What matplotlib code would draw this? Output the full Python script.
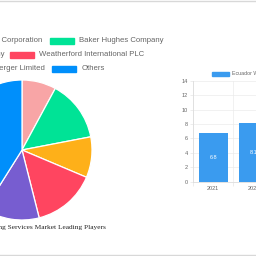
import matplotlib.pyplot as plt
from matplotlib.patches import Rectangle
from matplotlib.lines import Line2D

# pie data (share of market, %)
players = ["Sinopec Oilfield Service Corporation", "Baker Hughes Company", "Halliburton Company",
           "Weatherford International PLC", "Schlumberger Limited", "Others"]
shares = [7.9, 14.1, 9.4, 14.7, 12.9, 41.1]
colors = ["#f8a5a6", "#00e396", "#feb019", "#ff4560", "#775dd0", "#008ffb"]

# bar data
years = ["2021", "2022"]
sizes = [6.8, 8.1]
bar_label = "Ecuador Well Logging Services Market Size (billion)"
title = "Ecuador Well Logging Services Market Leading Players"

W = H = 256
fig = plt.figure(figsize=(2.56, 2.56), dpi=100)
fig.patch.set_facecolor('white')

def box(x, y, w, h):
    # pixel box (top-left origin) -> figure fraction
    return [x / W, 1 - (y + h) / H, w / W, h / H]

def fx(x):
    return x / W

def fy(y):
    return 1 - y / H

# ---- pie ----
cx, cy, r = 22, 150, 70
ax = fig.add_axes(box(cx - r, cy - r, 2 * r, 2 * r))
ax.pie(shares, colors=colors, startangle=90, counterclock=False,
       wedgeprops=dict(edgecolor='white', linewidth=0.9))
ax.set_xlim(-1, 1)
ax.set_ylim(-1, 1)
ax.set_aspect('equal')
ax.set_axis_off()

fig.text(fx(cx), fy(227), title, ha='center', va='center', fontsize=5.3,
         family='Liberation Serif', color='#222222')

# legend rows: first item right-aligned to its end, second item after a box
leg_font = dict(fontsize=5.6, family='Liberation Sans', color='#666666', va='center')
rows_y = [41, 55, 69]
first_ends = [42, 4.3, 45]
second_box = [49.7, 10.3, 52.3]
for row in range(3):
    i1, i2 = 2 * row, 2 * row + 1
    y = rows_y[row]
    fig.text(fx(first_ends[row]), fy(y), players[i1], ha='right', **leg_font)
    bx = second_box[row]
    fig.patches.append(Rectangle((fx(bx), fy(y + 2.6)), 24 / W, 5.2 / H,
                                 transform=fig.transFigure, color=colors[i2]))
    fig.text(fx(bx + 29), fy(y), players[i2], ha='left', **leg_font)

# ---- bars ----
bx0, by0, cat_w = 193.3, 80.7, 40
bax = fig.add_axes(box(bx0, by0, cat_w * 2, 181.7 - by0))
pos = range(len(years))
bars = bax.bar(pos, sizes, width=0.72, color="#3a9bef")
for b, v in zip(bars, sizes):
    bax.text(b.get_x() + b.get_width() / 2, v / 2, f"{v}", ha='center', va='center',
             fontsize=4, color='white', family='Liberation Sans')
bax.set_xlim(-0.5, len(years) - 0.5)
bax.set_ylim(0, 14)
bax.set_yticks(range(0, 15, 2))
bax.set_xticks(list(pos))
bax.set_xticklabels(years)
bax.set_xticks([p - 0.5 for p in pos] + [len(years) - 0.5], minor=True)
bax.tick_params(axis='y', labelsize=4, colors='#e6e6e6', labelcolor='#666666',
                length=2.5, width=0.5, pad=1.2)
bax.tick_params(axis='x', which='major', length=0, labelsize=4, labelcolor='#666666', pad=3)
bax.tick_params(axis='x', which='minor', length=3, width=0.5, colors='#e6e6e6')
for t in bax.get_xticklabels() + bax.get_yticklabels():
    t.set_family('Liberation Sans')
bax.grid(axis='y', color='#ebebeb', linewidth=0.5)
bax.grid(axis='x', which='minor', color='#ebebeb', linewidth=0.5)
bax.set_axisbelow(True)
for s in ['top', 'right']:
    bax.spines[s].set_visible(False)
bax.spines['left'].set_color('#dddddd')
bax.spines['bottom'].set_color('#dddddd')
bax.spines['left'].set_linewidth(0.6)
bax.spines['bottom'].set_linewidth(0.6)

fig.patches.append(Rectangle((fx(212.3), fy(76)), 17 / W, 4 / H,
                             transform=fig.transFigure, color="#3a9bef"))
fig.text(fx(232), fy(74), bar_label, ha='left', va='center', fontsize=3.8,
         family='Liberation Sans', color='#666666')

# frame lines top/bottom
fig.lines.append(Line2D([0, 1], [fy(0.5), fy(0.5)], transform=fig.transFigure,
                        color='#d8d8d8', linewidth=1))
fig.lines.append(Line2D([0, 1], [fy(255.3), fy(255.3)], transform=fig.transFigure,
                        color='#d8d8d8', linewidth=1))

fig.savefig('out.png', dpi=100)
